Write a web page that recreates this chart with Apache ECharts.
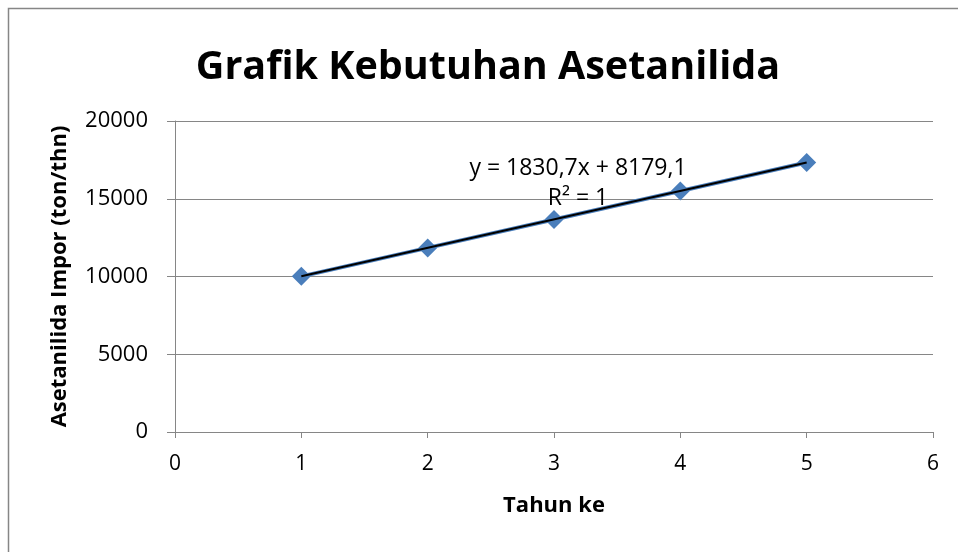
<!DOCTYPE html>
<html>
<head>
<meta charset="utf-8">
<script src="https://cdn.jsdelivr.net/npm/echarts@6/dist/echarts.min.js"></script>
<style>
  html, body { margin: 0; padding: 0; background: #fff; }
  #chart { width: 958px; height: 552px; }
</style>
</head>
<body>
<div id="chart"></div>
<script>
  // data
  var tahun = [1, 2, 3, 4, 5];
  var impor = [10010, 11840, 13670, 15500, 17330];
  // trendline endpoints (from the equation shown on the chart)
  var trendX = [1, 5];
  var trendY = [10010, 17333];
  var xTicks = { min: 0, max: 6, interval: 1 };
  var yTicks = { min: 0, max: 20000, interval: 5000 };
  var persamaan = 'y = 1830,7x + 8179,1';
  var r2 = 'R² = 1';

  var font = '"Open Sans", "Liberation Sans", sans-serif';
  var abu = '#868686';

  var chart = echarts.init(document.getElementById('chart'));

  var option = {
    backgroundColor: '#fff',
    animation: false,
    textStyle: { fontFamily: font },
    grid: { left: 175, right: 25, top: 121, bottom: 120 },
    xAxis: {
      type: 'value',
      min: xTicks.min, max: xTicks.max, interval: xTicks.interval,
      name: 'Tahun ke',
      nameLocation: 'middle',
      nameGap: 63,
      nameTextStyle: { fontFamily: font, fontSize: 22, fontWeight: 'bold', color: '#000', lineHeight: 22 },
      axisLine: { lineStyle: { color: abu, width: 1 } },
      axisTick: { show: true, length: 6, lineStyle: { color: abu } },
      axisLabel: { fontFamily: font, fontSize: 21, color: '#000', margin: 22, lineHeight: 21 },
      splitLine: { show: false }
    },
    yAxis: {
      type: 'value',
      min: yTicks.min, max: yTicks.max, interval: yTicks.interval,
      name: 'Asetanilida Impor (ton/thn)',
      nameLocation: 'middle',
      nameGap: 104,
      nameTextStyle: { fontFamily: font, fontSize: 22, fontWeight: 'bold', color: '#000', lineHeight: 22 },
      axisLine: { show: true, lineStyle: { color: abu, width: 1 } },
      axisTick: { show: true, length: 8, lineStyle: { color: abu } },
      axisLabel: {
        fontFamily: font, fontSize: 22, color: '#000', margin: 27,
        formatter: function (v) { return String(v); }
      },
      splitLine: { show: true, lineStyle: { color: abu, width: 1 } }
    },
    graphic: [
      {
        type: 'rect', silent: true, z: -1,
        shape: { x: 8.5, y: 8.5, width: 1000, height: 1000 },
        style: { fill: 'none', stroke: abu, lineWidth: 1.5 }
      },
      {
        type: 'text', x: 488, y: 68,
        style: { text: 'Grafik Kebutuhan Asetanilida', fontFamily: font, fontSize: 39.5, fontWeight: 'bold',
                 fill: '#000', align: 'center', verticalAlign: 'middle' }
      },
      {
        type: 'text', x: 578, y: 168, z: 10,
        style: { text: persamaan, fontFamily: font, fontSize: 23, fill: '#000', align: 'center', verticalAlign: 'middle' }
      },
      {
        type: 'text', x: 578, y: 198, z: 10,
        style: { text: r2, fontFamily: font, fontSize: 23, fill: '#000', align: 'center', verticalAlign: 'middle' }
      }
    ],
    series: [
      {
        name: 'Impor',
        type: 'line',
        data: tahun.map(function (t, i) { return [t, impor[i]]; }),
        symbol: 'diamond',
        symbolSize: 19,
        itemStyle: { color: '#4A7EBB' },
        lineStyle: { color: '#4A7EBB', width: 4 },
        z: 2
      },
      {
        name: 'Linear (Impor)',
        type: 'line',
        data: trendX.map(function (t, i) { return [t, trendY[i]]; }),
        symbol: 'none',
        lineStyle: { color: '#000', width: 2 },
        z: 3
      }
    ]
  };

  chart.setOption(option);
</script>
</body>
</html>
